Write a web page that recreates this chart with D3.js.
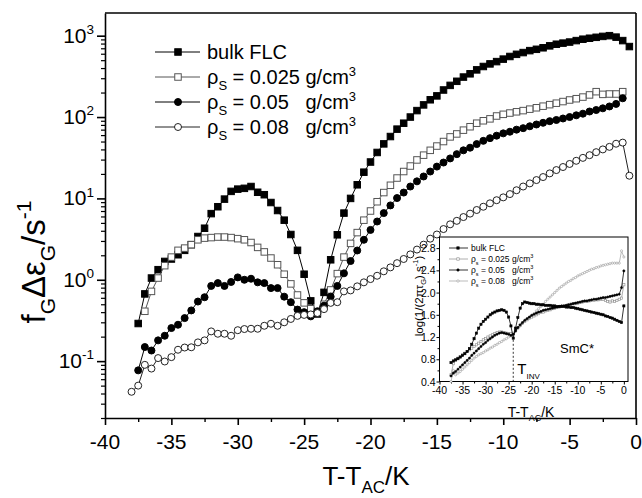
<!DOCTYPE html>
<html>
<head>
<meta charset="utf-8">
<script src="https://cdnjs.cloudflare.com/ajax/libs/d3/7.8.5/d3.min.js"></script>
<style>
  body { margin: 0; background: #fff; }
  text { font-family: "Liberation Sans", Arial, sans-serif; white-space: pre; }
</style>
</head>
<body>
<div id="chart"></div>
<script>
// main plot: temperature grid (K) and the four series, null = no point
var tempMain = [-38,-37.5,-37,-36.5,-36,-35.5,-35,-34.5,-34,-33.5,-33,-32.5,-32,-31.5,-31,-30.5,-30,-29.5,-29,-28.5,
  -28,-27.5,-27,-26.5,-26,-25.5,-25,-24.5,-24,-23.5,-23,-22.5,-22,-21.5,-21,-20.5,-20,-19.5,-19,-18.5,
  -18,-17.5,-17,-16.5,-16,-15.5,-15,-14.5,-14,-13.5,-13,-12.5,-12,-11.5,-11,-10.5,-10,-9.5,-9,-8.5,
  -8,-7.5,-7,-6.5,-6,-5.5,-5,-4.5,-4,-3.5,-3,-2.5,-2,-1.5,-1,-0.5];

var bulkFLC = [null,0.29,0.67,1.05,1.33,1.68,1.8,2.03,2.3,2.7,3.4,4.3,6.5,7.9,9.8,12.2,13,13.3,14,11.9,
  11.1,8.9,7.1,5.4,3.6,2.3,1.17,0.55,0.38,0.7,1.76,3.57,6.6,10,14.7,21,28,36.7,46.8,57.6,
  71,84,100,120,141,163,182,215,245,275,310,340,380,418,450,480,515,555,590,620,
  655,680,710,750,785,810,835,870,905,930,955,980,1000,960,870,735];

var rho025 = [null,null,0.41,0.72,1.05,1.49,1.9,2.3,2.45,2.7,3.1,3.25,3.3,3.35,3.35,3.3,3.2,3.1,2.87,2.5,
  2.2,1.85,1.53,1.17,0.89,0.65,0.52,0.44,0.4,0.5,0.75,1.19,1.9,2.8,3.8,5.4,7.0,9.1,11.8,14.5,
  17.8,21.4,25,29.7,34,39,44,50,57,62,69,76,84,90,95,103,108,112,116,120,
  125,130,136,142,148,155,162,168,176,187,205,190,192,192,205,null];

var rho05 = [null,0.077,0.149,0.135,0.18,0.205,0.255,0.28,0.338,0.42,0.54,0.61,0.84,0.91,0.84,0.94,1.07,1.0,1.03,0.93,
  0.91,0.79,0.79,0.62,0.53,0.43,0.40,0.355,0.41,0.48,0.62,0.84,1.2,1.7,2.29,3.1,4.1,5.2,6.6,8.2,
  10.1,11.8,14,16.2,18.6,21.4,24.6,27.6,31,35,39,42,46.5,51,55,59,63,66,70,73,
  77,81,85,89,92,96,100,105,110,117,122,128,135,145,170,null];

var rho08 = [0.042,0.05,0.09,0.081,0.109,0.099,0.112,0.138,0.147,0.148,0.17,0.18,0.232,0.217,0.217,0.205,0.24,0.248,0.25,0.25,
  0.272,0.288,0.272,0.30,0.33,0.36,0.37,0.375,0.39,0.436,0.52,0.53,0.72,0.74,0.83,0.93,1.02,1.12,1.27,1.42,
  1.6,1.8,2.05,2.35,2.7,3.2,3.6,4.2,4.8,5.3,5.9,6.5,7.2,7.9,8.7,9.5,10.3,11.3,12.6,14,
  15.3,16.8,18.3,20.3,22.3,24.3,26.5,29,31.5,34,37,40,43,47,48.5,19];

// inset: log(1/(2 pi tau_G)) against T - T_AC
var tempInset = [-37.5,-37,-36.5,-36,-35.5,-35,-34.5,-34,-33.5,-33,-32.5,-32,-31.5,-31,-30.5,-30,-29.5,-29,-28.5,-28,
  -27.5,-27,-26.5,-26,-25.5,-25,-24.5,-24,-23.5,-23,-22.5,-22,-21.5,-21,-20.5,-20,-19.5,-19,-18.5,-18,
  -17.5,-17,-16.5,-16,-15.5,-15,-14.5,-14,-13.5,-13,-12.5,-12,-11.5,-11,-10.5,-10,-9.5,-9,-8.5,-8,
  -7.5,-7,-6.5,-6,-5.5,-5,-4.5,-4,-3.5,-3,-2.5,-2,-1.5,-1,-0.5,0];

var insetBulk = [0.74,0.77,0.79,0.81,0.84,0.87,0.9,0.94,0.99,1.07,1.17,1.27,1.36,1.43,1.48,1.52,1.56,1.6,1.63,1.65,
  1.67,1.68,1.69,1.68,1.65,1.56,1.4,1.18,1.36,1.55,1.72,1.8,1.83,1.82,1.81,1.8,1.8,1.79,1.79,1.78,
  1.78,1.77,1.77,1.77,1.76,1.76,1.75,1.75,1.75,1.75,1.74,1.74,1.73,1.73,1.72,1.71,1.7,1.69,1.68,1.67,
  1.66,1.65,1.64,1.63,1.62,1.61,1.6,1.58,1.57,1.55,1.54,1.52,1.5,1.48,1.46,1.76];

var inset025 = [0.52,0.72,0.78,0.82,0.85,0.88,0.91,0.94,0.97,1.0,1.03,1.06,1.09,1.12,1.15,1.17,1.2,1.22,1.24,1.26,
  1.28,1.29,1.29,1.28,1.27,1.26,1.26,1.27,1.32,1.37,1.41,1.45,1.48,1.51,1.54,1.56,1.58,1.6,1.62,1.64,
  1.65,1.67,1.68,1.69,1.71,1.72,1.73,1.74,1.75,1.76,1.77,1.78,1.79,1.8,1.8,1.81,1.82,1.83,1.84,1.84,
  1.85,1.86,1.86,1.87,1.87,1.88,1.88,1.86,1.84,1.83,1.85,1.84,1.86,1.88,1.9,2.14];

var inset05 = [0.5,0.55,0.58,0.62,0.66,0.7,0.74,0.78,0.82,0.87,0.91,0.95,0.99,1.03,1.07,1.1,1.14,1.17,1.2,1.23,
  1.25,1.27,1.28,1.27,1.26,1.25,1.23,1.25,1.31,1.37,1.42,1.46,1.5,1.53,1.56,1.59,1.61,1.63,1.65,1.66,
  1.68,1.69,1.7,1.71,1.72,1.73,1.74,1.75,1.76,1.76,1.77,1.78,1.79,1.8,1.81,1.82,1.83,1.84,1.85,1.85,
  1.86,1.87,1.88,1.88,1.89,1.9,1.91,1.91,1.92,1.93,1.94,1.95,1.96,1.97,2.09,2.39];

var inset08 = [0.4,0.6,0.52,0.55,0.58,0.62,0.66,0.7,0.74,0.78,0.82,0.85,0.88,0.9,0.92,0.95,0.97,1.0,1.02,1.05,
  1.07,1.1,1.12,1.15,1.17,1.2,1.22,1.25,1.3,1.35,1.4,1.45,1.49,1.52,1.55,1.58,1.62,1.67,1.71,1.75,
  1.79,1.84,1.88,1.92,1.96,2.0,2.04,2.08,2.11,2.14,2.17,2.2,2.22,2.25,2.27,2.3,2.32,2.34,2.36,2.38,
  2.4,2.42,2.43,2.45,2.46,2.48,2.49,2.5,2.51,2.52,2.53,2.53,2.53,2.53,2.75,2.64];

// tick values
var xTicks = [-40,-35,-30,-25,-20,-15,-10,-5,0];
var yDecades = [-1,0,1,2,3];
var insetYTicks = [0.4,0.8,1.2,1.6,2.0,2.4,2.8];
var tInv = -24;

var W = 642, H = 498;
var svg = d3.select("#chart").append("svg").attr("width", W).attr("height", H);

var x = d3.scaleLinear().domain([-40, 0]).range([105, 636]);
var y = d3.scaleLog().domain([0.02, 1900]).range([418, 13]);

// series styling
var series = [
  {name: "bulk", vals: bulkFLC, shape: "square", fill: "#000", stroke: "#000", line: "#000"},
  {name: "r025", vals: rho025, shape: "square", fill: "#fff", stroke: "#555", line: "#555"},
  {name: "r05", vals: rho05, shape: "circle", fill: "#000", stroke: "#000", line: "#000"},
  {name: "r08", vals: rho08, shape: "circle", fill: "#fff", stroke: "#222", line: "#222"}
];

// helper for text with sub/superscripts; parts = [[str, "n"|"sub"|"sup"], ...]
function rich(g, parts, size, subSize) {
  var t = g.append("text").style("font-size", size + "px");
  var shift = 0;
  parts.forEach(function (p) {
    var target = p[1] === "sub" ? size * 0.3 : (p[1] === "sup" ? -size * 0.42 : 0);
    var ts = t.append("tspan").text(p[0]).attr("dy", target - shift);
    if (p[1] !== "n") ts.style("font-size", subSize + "px");
    shift = target;
  });
  return t;
}

function drawMarker(g, shape, cx, cy, s, fill, stroke, sw) {
  if (shape === "square") {
    g.append("rect").attr("x", cx - s / 2).attr("y", cy - s / 2).attr("width", s).attr("height", s)
      .attr("fill", fill).attr("stroke", stroke).attr("stroke-width", sw);
  } else {
    g.append("circle").attr("cx", cx).attr("cy", cy).attr("r", s / 2)
      .attr("fill", fill).attr("stroke", stroke).attr("stroke-width", sw);
  }
}

// ---------- main axes ----------
var axisG = svg.append("g");

axisG.append("g").attr("transform", "translate(0,418)")
  .call(d3.axisBottom(x).tickValues(xTicks).tickSize(7).tickSizeOuter(0).tickFormat(""))
  .call(function (g) { g.select(".domain").attr("stroke-width", 1.6); g.selectAll(".tick line").attr("stroke-width", 1.6); });

axisG.append("g").attr("transform", "translate(0,418)")
  .call(d3.axisBottom(x).tickValues(xTicks.slice(1).map(function (v) { return v - 2.5; })).tickSize(4).tickSizeOuter(0).tickFormat(""))
  .call(function (g) { g.select(".domain").remove(); g.selectAll(".tick line").attr("stroke-width", 1.4); });

var yMajor = yDecades.map(function (k) { return Math.pow(10, k); });
var yMinor = [];
[-2, -1, 0, 1, 2, 3].forEach(function (k) {
  for (var m = 2; m <= 9; m++) {
    var v = m * Math.pow(10, k);
    if (v >= 0.02 && v <= 1900) yMinor.push(v);
  }
});

axisG.append("g").attr("transform", "translate(105,0)")
  .call(d3.axisLeft(y).tickValues(yMajor).tickSize(8).tickSizeOuter(0).tickFormat(""))
  .call(function (g) { g.select(".domain").attr("stroke-width", 1.6); g.selectAll(".tick line").attr("stroke-width", 1.6); });

axisG.append("g").attr("transform", "translate(105,0)")
  .call(d3.axisLeft(y).tickValues(yMinor).tickSize(4).tickSizeOuter(0).tickFormat(""))
  .call(function (g) { g.select(".domain").remove(); g.selectAll(".tick line").attr("stroke-width", 1.2); });

// top and right frame
axisG.append("line").attr("x1", x(-40)).attr("x2", x(0)).attr("y1", y(1900)).attr("y2", y(1900))
  .attr("stroke", "#000").attr("stroke-width", 1.6);
axisG.append("line").attr("x1", x(0)).attr("x2", x(0)).attr("y1", y(1900)).attr("y2", y(0.02))
  .attr("stroke", "#000").attr("stroke-width", 1.6);

// tick labels
xTicks.forEach(function (v) {
  axisG.append("text").attr("x", x(v)).attr("y", 449).attr("text-anchor", "middle")
    .style("font-size", "21px").text(v);
});
yDecades.forEach(function (k) {
  var t = rich(axisG, [["10", "n"], [String(k), "sup"]], 21, 13.5);
  t.attr("x", 94).attr("y", y(Math.pow(10, k)) + 7).attr("text-anchor", "end");
});

// axis titles
rich(axisG, [["T-T", "n"], ["AC", "sub"], ["/K", "n"]], 26, 17)
  .attr("x", 366).attr("y", 485).attr("text-anchor", "middle");

rich(axisG.append("g").attr("transform", "translate(45,262) rotate(-90)"),
  [["f", "n"], ["G", "sub"], ["\u0394\u03b5", "n"], ["G", "sub"], ["/s", "n"], ["-1", "sup"]], 33, 21)
  .attr("text-anchor", "middle");

// ---------- main series ----------
var plotG = svg.append("g");
series.forEach(function (s) {
  var pts = tempMain.map(function (t, i) { return {t: t, v: s.vals[i]}; })
    .filter(function (d) { return d.v !== null; });
  plotG.append("path").datum(pts)
    .attr("fill", "none").attr("stroke", s.line).attr("stroke-width", 1)
    .attr("d", d3.line().x(function (d) { return x(d.t); }).y(function (d) { return y(d.v); }));
  var mg = plotG.append("g");
  pts.forEach(function (d) {
    drawMarker(mg, s.shape, x(d.t), y(d.v), s.shape === "square" ? 6.5 : 7, s.fill, s.stroke, 1);
  });
});

// ---------- main legend ----------
var legendRows = [
  [["bulk FLC", "n"]],
  [["\u03c1", "n"], ["S", "sub"], [" = 0.025 g/cm", "n"], ["3", "sup"]],
  [["\u03c1", "n"], ["S", "sub"], [" = 0.05   g/cm", "n"], ["3", "sup"]],
  [["\u03c1", "n"], ["S", "sub"], [" = 0.08   g/cm", "n"], ["3", "sup"]]
];
var legG = svg.append("g");
legendRows.forEach(function (row, i) {
  var ly = 52 + i * 25;
  var s = series[i];
  legG.append("line").attr("x1", 155).attr("x2", 200).attr("y1", ly).attr("y2", ly)
    .attr("stroke", s.line).attr("stroke-width", 1);
  drawMarker(legG, s.shape, 178, ly, s.shape === "square" ? 6.5 : 7, s.fill, s.stroke, 1);
  rich(legG, row, 20, 13).attr("x", 207).attr("y", ly + 7);
});

// ---------- inset ----------
var xi = d3.scaleLinear().domain([-40, 0.9]).range([439.5, 628]);
var yi = d3.scaleLinear().domain([0.4, 3.0]).range([381.5, 237]);
var inset = svg.append("g");

inset.append("rect").attr("x", xi(-40)).attr("y", yi(3.0))
  .attr("width", xi(0.9) - xi(-40)).attr("height", yi(0.4) - yi(3.0))
  .attr("fill", "#fff").attr("stroke", "#000").attr("stroke-width", 1);

inset.append("g").attr("transform", "translate(0," + yi(0.4) + ")")
  .call(d3.axisBottom(xi).tickValues(xTicks).tickSize(3).tickSizeOuter(0).tickFormat(""))
  .call(function (g) { g.select(".domain").remove(); });
inset.append("g").attr("transform", "translate(0," + yi(0.4) + ")")
  .call(d3.axisBottom(xi).tickValues(xTicks.slice(1).map(function (v) { return v - 2.5; })).tickSize(2).tickSizeOuter(0).tickFormat(""))
  .call(function (g) { g.select(".domain").remove(); });
inset.append("g").attr("transform", "translate(" + xi(-40) + ",0)")
  .call(d3.axisLeft(yi).tickValues(insetYTicks).tickSize(3).tickSizeOuter(0).tickFormat(""))
  .call(function (g) { g.select(".domain").remove(); });
inset.append("g").attr("transform", "translate(" + xi(-40) + ",0)")
  .call(d3.axisLeft(yi).tickValues(insetYTicks.slice(0, -1).map(function (v) { return v + 0.2; })).tickSize(2).tickSizeOuter(0).tickFormat(""))
  .call(function (g) { g.select(".domain").remove(); });

xTicks.forEach(function (v) {
  inset.append("text").attr("x", xi(v)).attr("y", yi(0.4) + 12).attr("text-anchor", "middle")
    .style("font-size", "10.5px").text(v);
});
insetYTicks.forEach(function (v) {
  inset.append("text").attr("x", xi(-40) - 4).attr("y", yi(v) + 4).attr("text-anchor", "end")
    .style("font-size", "10.5px").text(v.toFixed(1));
});

rich(inset, [["T-T", "n"], ["AC", "sub"], ["/K", "n"]], 14, 9)
  .attr("x", 531).attr("y", 417).attr("text-anchor", "middle");
rich(inset.append("g").attr("transform", "translate(423,296) rotate(-90)"),
  [["log(1/(2\u03c0\u03c4", "n"], ["G", "sub"], [") s", "n"], ["-1", "sup"], [")", "n"]], 11.5, 7.5)
  .attr("text-anchor", "middle");

// T_inv marker line and labels
inset.append("line").attr("x1", xi(tInv)).attr("x2", xi(tInv)).attr("y1", yi(1.15)).attr("y2", yi(0.4))
  .attr("stroke", "#000").attr("stroke-width", 0.8).attr("stroke-dasharray", "2,2");
rich(inset, [["T", "n"], ["INV", "sub"]], 15, 8).attr("x", xi(tInv) + 4).attr("y", 374);
inset.append("text").attr("x", 560).attr("y", 353).style("font-size", "13px").text("SmC*");

var insetSeries = [
  {vals: insetBulk, shape: "square", fill: "#000", stroke: "#000", line: "#000"},
  {vals: inset025, shape: "square", fill: "#fff", stroke: "#888", line: "#999"},
  {vals: inset05, shape: "circle", fill: "#000", stroke: "#000", line: "#000"},
  {vals: inset08, shape: "circle", fill: "#fff", stroke: "#999", line: "#aaa"}
];
var insetPlot = inset.append("g");
[3, 1, 2, 0].forEach(function (idx) {
  var s = insetSeries[idx];
  var pts = tempInset.map(function (t, i) { return {t: t, v: s.vals[i]}; });
  insetPlot.append("path").datum(pts)
    .attr("fill", "none").attr("stroke", s.line).attr("stroke-width", 0.8)
    .attr("d", d3.line().x(function (d) { return xi(d.t); }).y(function (d) { return yi(d.v); }));
  var mg = insetPlot.append("g");
  pts.forEach(function (d) {
    drawMarker(mg, s.shape, xi(d.t), yi(d.v), 2.2, s.fill, s.stroke, 0.6);
  });
});

// inset legend
var insetLegend = [
  [["bulk FLC", "n"]],
  [["\u03c1", "n"], ["s", "sub"], [" = 0.025 g/cm", "n"], ["3", "sup"]],
  [["\u03c1", "n"], ["s", "sub"], [" = 0.05   g/cm", "n"], ["3", "sup"]],
  [["\u03c1", "n"], ["s", "sub"], [" = 0.08   g/cm", "n"], ["3", "sup"]]
];
insetLegend.forEach(function (row, i) {
  var ly = 248 + i * 11;
  var s = insetSeries[i];
  inset.append("line").attr("x1", 449).attr("x2", 468).attr("y1", ly).attr("y2", ly)
    .attr("stroke", s.line).attr("stroke-width", 0.8);
  drawMarker(inset, s.shape, 458, ly, 2.4, s.fill, s.stroke, 0.6);
  rich(inset, row, 8.5, 5.5).attr("x", 471).attr("y", ly + 3);
});
</script>
</body>
</html>
